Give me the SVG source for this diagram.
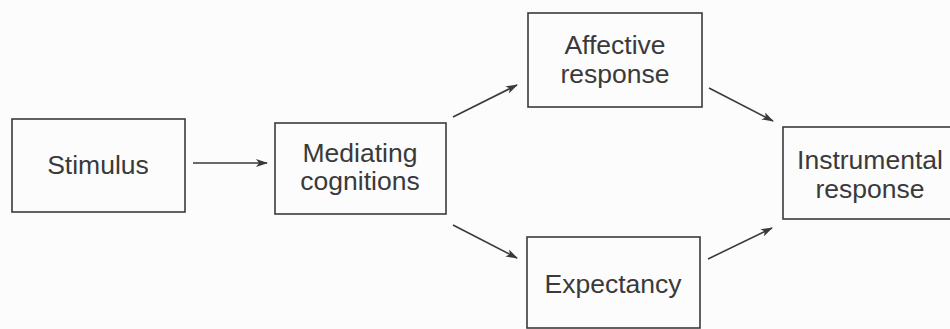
<svg xmlns="http://www.w3.org/2000/svg" width="950" height="329" viewBox="0 0 950 329">
  <style>
    .box { fill: none; stroke: #3a3a3a; stroke-width: 1.6; }
    .lbl { font-family: "Liberation Sans", Arial, Helvetica, sans-serif; font-size: 26.5px; fill: #3a3a3a; text-anchor: middle; }
    .edge { stroke: #3a3a3a; stroke-width: 1.6; fill: none; marker-end: url(#arrow); }
  </style>
  <defs>
    <marker id="arrow" viewBox="0 0 12 8" refX="11" refY="4" markerWidth="12" markerHeight="8" markerUnits="userSpaceOnUse" orient="auto">
      <path d="M0,0 L12,4 L0,8 L3,4 Z" fill="#3a3a3a"/>
    </marker>
  </defs>
  <rect width="950" height="329" fill="#fcfcfc"/>

  <g id="stimulus">
    <rect class="box" x="12" y="119" width="173" height="93"/>
    <text class="lbl" x="98" y="174">Stimulus</text>
  </g>

  <g id="mediating">
    <rect class="box" x="275" y="123" width="171" height="91"/>
    <text class="lbl" x="360" y="162">Mediating</text>
    <text class="lbl" x="360" y="190">cognitions</text>
  </g>

  <g id="affective">
    <rect class="box" x="528" y="13" width="174" height="94"/>
    <text class="lbl" x="615" y="54">Affective</text>
    <text class="lbl" x="615" y="83">response</text>
  </g>

  <g id="expectancy">
    <rect class="box" x="527" y="237" width="173" height="91"/>
    <text class="lbl" x="613" y="293">Expectancy</text>
  </g>

  <!-- this box runs past the right edge of the page -->
  <g id="instrumental">
    <rect class="box" x="783" y="127" width="180" height="92"/>
    <text class="lbl" x="870" y="169">Instrumental</text>
    <text class="lbl" x="870" y="198">response</text>
  </g>

  <g id="connectors">
    <line class="edge" x1="193" y1="163" x2="267" y2="163"/>
    <line class="edge" x1="453" y1="117" x2="517" y2="85"/>
    <line class="edge" x1="453" y1="225" x2="517" y2="258"/>
    <line class="edge" x1="709" y1="88" x2="773" y2="121"/>
    <line class="edge" x1="708" y1="259" x2="772" y2="228"/>
  </g>
</svg>
